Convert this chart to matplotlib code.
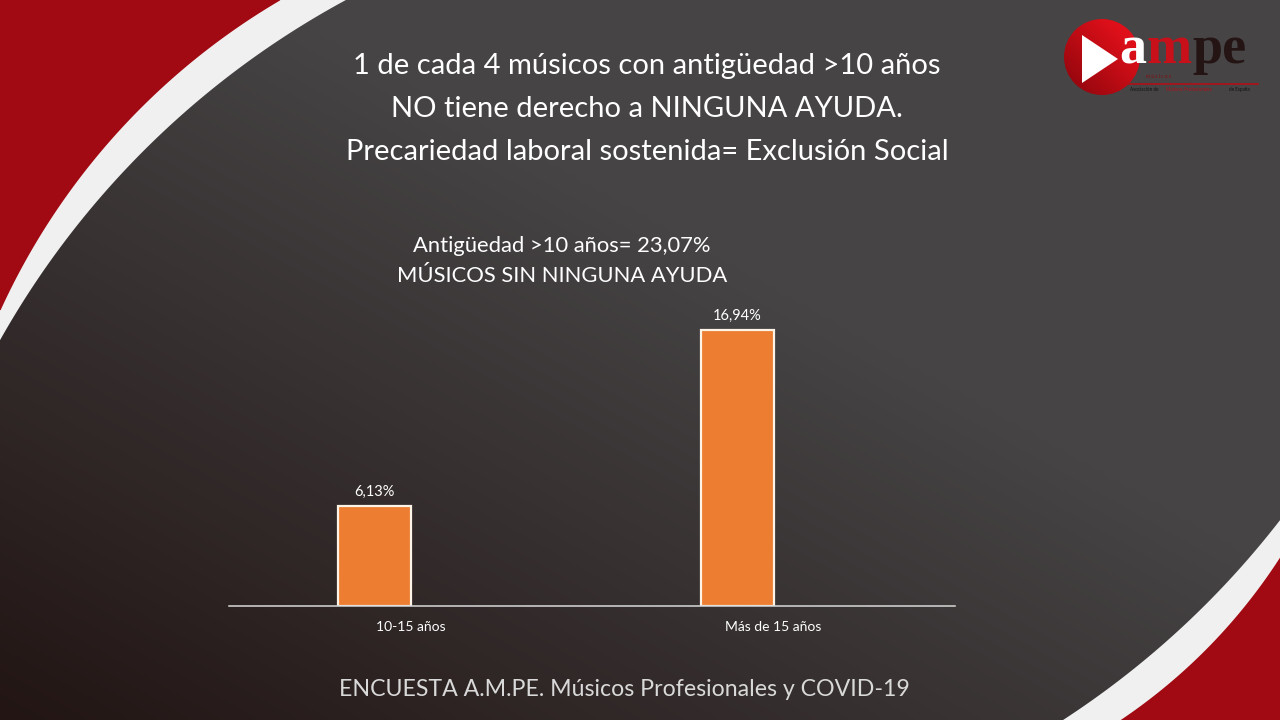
import numpy as np
import matplotlib
matplotlib.use("Agg")
import matplotlib.pyplot as plt
from matplotlib.patches import Polygon, Circle

# === DATOS ===
categorias = ["10-15 años", "Más de 15 años"]
valores = [6.13, 16.94]

titulo = ["1 de cada 4 músicos con antigüedad >10 años",
          "NO tiene derecho a NINGUNA AYUDA.",
          "Precariedad laboral sostenida= Exclusión Social"]
subtitulo = ["Antigüedad >10 años= 23,07%", "MÚSICOS SIN NINGUNA AYUDA"]
pie = "ENCUESTA A.M.PE. Músicos Profesionales y COVID-19"

plt.rcParams['font.family'] = ['Lato', 'DejaVu Sans']

W, H = 1280, 720
fig = plt.figure(figsize=(12.8, 7.2), dpi=100)

# --- Fondo (coordenadas en píxeles) ---
bg = fig.add_axes([0, 0, 1, 1], zorder=0)
bg.set_xlim(0, W)
bg.set_ylim(H, 0)
bg.axis("off")

xx, yy = np.meshgrid(np.linspace(0, 1, 320), np.linspace(0, 1, 180))
t = np.clip((xx + (1 - yy)) / 1.2, 0, 1)
c0 = np.array([0x22, 0x15, 0x14]) / 255
c1 = np.array([0x46, 0x44, 0x45]) / 255
grad = c0[None, None, :] * (1 - t[..., None]) + c1[None, None, :] * t[..., None]
bg.imshow(grad, extent=(0, W, H, 0), aspect="auto", interpolation="bilinear")


def esquina(cx, cy, r, a0, a1, extra):
    ang = np.linspace(a0, a1, 200)
    pts = np.column_stack([cx + r * np.cos(ang), cy + r * np.sin(ang)])
    return np.vstack([pts, extra])


def angulo(cx, cy, x, y):
    return np.arctan2(y - cy, x - cx)


# arco superior izquierdo (blanco y rojo)
for (cx, cy, r, col, xt, yl) in [(761, 768, 873, "#f0f0f0", 346, 340),
                                 (631, 598, 693, "#a10a12", 280, 310)]:
    a0 = angulo(cx, cy, xt, 0)
    a1 = angulo(cx, cy, 0, yl)
    a1 = a1 if a1 < a0 else a1 - 2 * np.pi
    poly = esquina(cx, cy, r, a0, a1, [[0, yl], [0, 0], [xt, 0]])
    bg.add_patch(Polygon(poly, closed=True, color=col, lw=0))

# arco inferior derecho
for (cx, cy, r, col, xb, yr) in [(581, -21, 884, "#f0f0f0", 1063, 520),
                                 (806, 252, 564, "#a10a12", 1120, 557)]:
    a0 = angulo(cx, cy, xb, H)
    a1 = angulo(cx, cy, W, yr)
    poly = esquina(cx, cy, r, a0, a1, [[W, yr], [W, H], [xb, H]])
    bg.add_patch(Polygon(poly, closed=True, color=col, lw=0))

# --- Logo ---
circ = Circle((1102, 57), 38, transform=bg.transData, lw=0)
rr = np.linspace(0, 1, 100)
lg = np.clip((rr[None, :] + (1 - rr[:, None])) / 1.6, 0, 1)
r0 = np.array([0x8a, 0x05, 0x0c]) / 255
r1 = np.array([0xe0, 0x10, 0x1a]) / 255
img = r0[None, None, :] * (1 - lg[..., None]) + r1[None, None, :] * lg[..., None]
im = bg.imshow(img, extent=(1064, 1140, 95, 19), interpolation="bilinear")
im.set_clip_path(circ)
bg.add_patch(Polygon([[1082, 35], [1082, 83], [1118, 59]], closed=True, color="white", lw=0))

# letras "a" "m" "pe" una tras otra
renderer = fig.canvas.get_renderer()
x_letra = 1119
for letras, col in [("a", "white"), ("m", "#c8101a"), ("pe", "#241414")]:
    txt = bg.text(x_letra, 63, letras, color=col, fontsize=39, fontweight="bold",
                  family="Liberation Serif", va="baseline")
    bb = txt.get_window_extent(renderer)
    x_letra = bg.transData.inverted().transform((bb.x1 + 0.5, bb.y0))[0]

bg.text(1158, 76.5, "m ú s i c o s", color="#8a0a10", fontsize=3.5, ha="center", va="center")
bg.plot([1128, 1258], [84, 84], color="#b01018", lw=1.2)
bg.text(1130, 89.5, "Asociación de", color="#111111", fontsize=3.3, va="center")
bg.text(1166, 89.5, "Músicos Profesionales", color="#b01018", fontsize=3.3, va="center")
bg.text(1229, 89.5, "de España", color="#111111", fontsize=3.3, va="center")

# --- Textos ---
for i, linea in enumerate(titulo):
    bg.text(647, 66 + i * 43, linea, color="white", fontsize=21, ha="center", va="center")
for i, linea in enumerate(subtitulo):
    bg.text(562, 246 + i * 30, linea, color="white", fontsize=15.8, ha="center", va="center")
bg.text(624, 689, pie, color="#d9d9d9", fontsize=16.7, ha="center", va="center")

# --- Gráfico de barras ---
ax = fig.add_axes([229 / W, 1 - 606 / H, (955 - 229) / W, (606 - 290) / H], zorder=2)
ax.patch.set_alpha(0)
pos = np.arange(len(categorias))
# barra a la izquierda del hueco de cada categoría
barras = ax.bar(pos - 0.1, valores, width=0.2, color="#ed7d31", edgecolor="#fdf3e7", linewidth=1.6)
etiquetas = [f"{v:.2f}".replace(".", ",") + "%" for v in valores]
ax.bar_label(barras, labels=etiquetas, padding=5, color="white", fontsize=10.5)
ax.set_xlim(-0.5, 1.5)
ax.set_ylim(0, 19.4)
ax.set_xticks(pos, categorias, color="white", fontsize=10)
ax.tick_params(axis="x", length=0, pad=11)
ax.set_yticks([])
for lado in ["top", "left", "right"]:
    ax.spines[lado].set_visible(False)
ax.spines["bottom"].set_color("#d9d9d9")
ax.spines["bottom"].set_linewidth(1.1)

fig.savefig("out.png", dpi=100)
